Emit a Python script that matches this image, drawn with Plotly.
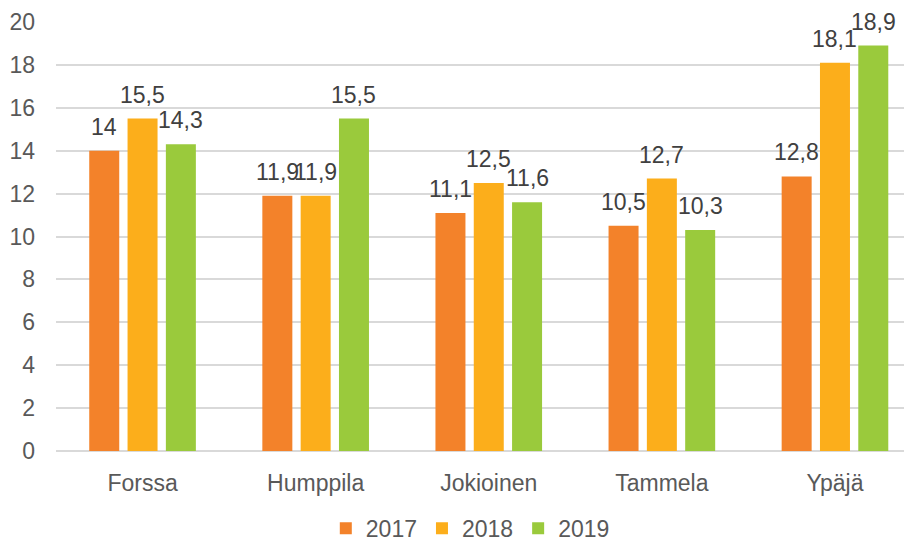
import plotly.graph_objects as go

kunnat = ["Forssa", "Humppila", "Jokioinen", "Tammela", "Ypäjä"]
vuodet = ["2017", "2018", "2019"]
arvot_2017 = [14.0, 11.9, 11.1, 10.5, 12.8]
arvot_2018 = [15.5, 11.9, 12.5, 12.7, 18.1]
arvot_2019 = [14.3, 15.5, 11.6, 10.3, 18.9]
y_ticks = [0, 2, 4, 6, 8, 10, 12, 14, 16, 18, 20]

varit = ["#F3822A", "#FCAE1B", "#9ACA3C"]
FONT = "Liberation Sans, Arial, sans-serif"
KOKO = 23


def fi(v):
    # Finnish decimal comma
    return f"{v:g}".replace(".", ",")


sarjat = [arvot_2017, arvot_2018, arvot_2019]

fig = go.Figure()
for vuosi, arvot, vari in zip(vuodet, sarjat, varit):
    fig.add_trace(go.Bar(
        name=vuosi,
        x=kunnat,
        y=arvot,
        marker=dict(color=vari, line=dict(width=0)),
    ))

# data labels, a bit higher above the bars than plotly's own outside text
for i, arvot in enumerate(sarjat):
    for kunta, v in zip(kunnat, arvot):
        fig.add_annotation(
            x=kunta, y=v, text=fi(v),
            xshift=(i - 1) * 38.3, yshift=9,
            yanchor="bottom", showarrow=False,
            font=dict(family=FONT, size=KOKO, color="#404040"),
        )

# page body has an 8px margin; the figure is allowed to run past the window
# bottom so the legend does not push the plot area smaller
fig.update_layout(
    width=904,
    height=560,
    margin=dict(l=48, r=0, t=14, b=117),
    paper_bgcolor="white",
    plot_bgcolor="white",
    barmode="group",
    bargap=0.336,
    bargroupgap=0.217,
    font=dict(family=FONT, size=KOKO, color="#595959"),
    legend=dict(
        orientation="h",
        x=0.484,
        xanchor="center",
        y=-0.18,
        yanchor="middle",
        font=dict(size=KOKO, color="#595959"),
        itemwidth=30,
    ),
    xaxis=dict(
        range=[-0.5, 4.445],
        showgrid=False,
        showline=False,
        ticks="",
        automargin=False,
        ticklabelstandoff=16,
        tickfont=dict(size=KOKO, color="#595959"),
    ),
    yaxis=dict(
        range=[0, 20],
        tickvals=y_ticks,
        showgrid=True,
        gridcolor="#D9D9D9",
        gridwidth=1.5,
        zeroline=True,
        zerolinecolor="#D9D9D9",
        zerolinewidth=1.5,
        ticks="",
        automargin=False,
        ticklabelstandoff=20,
        tickfont=dict(size=KOKO, color="#595959"),
    ),
)

fig.write_html("out.html")
